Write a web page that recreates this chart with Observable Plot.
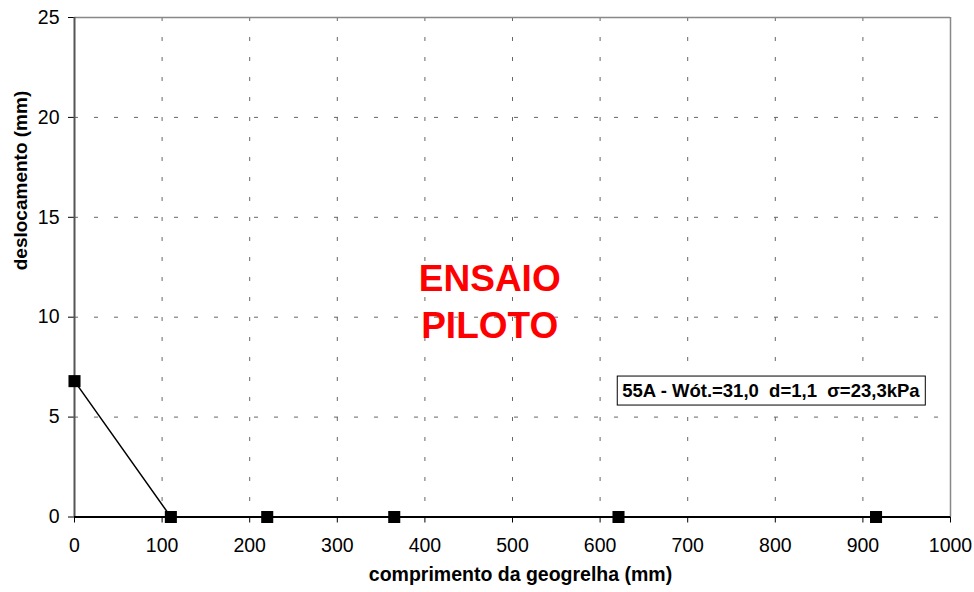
<!DOCTYPE html>
<html>
<head>
<meta charset="utf-8">
<script src="https://cdn.jsdelivr.net/npm/d3@7"></script>
<script src="https://cdn.jsdelivr.net/npm/@observablehq/plot@0.6"></script>
<style>
  html, body { margin: 0; padding: 0; background: #fff; }
  #chart { width: 974px; height: 592px; }
  svg { font-family: "Liberation Sans", Arial, sans-serif; }
</style>
</head>
<body>
<div id="chart"></div>
<script>
// Data
const comprimento = [0, 110, 220, 365, 621, 915];   // mm
const deslocamento = [6.8, 0, 0, 0, 0, 0];        // mm
const xTicks = [0, 100, 200, 300, 400, 500, 600, 700, 800, 900, 1000];
const yTicks = [0, 5, 10, 15, 20, 25];
const xLabel = "comprimento da geogrelha (mm)";
const yLabel = "deslocamento (mm)";
const watermark = ["ENSAIO\nPILOTO"];
const watermarkPos = {x: 474, y: 10.9};
const infoText = ["55A - Wót.=31,0  d=1,1  σ=23,3kPa"];
const infoPos = {x: 795, y: 6.3};

const data = comprimento.map((x, i) => ({x, y: deslocamento[i]}));

const dash = "4,16";
const chart = Plot.plot({
  width: 974,
  height: 592,
  marginLeft: 74,
  marginRight: 24,
  marginTop: 17,
  marginBottom: 75.5,
  style: {fontSize: "19px", fontFamily: "Liberation Sans, Arial, sans-serif", color: "#000", background: "#fff"},
  x: {domain: [0, 1000]},
  y: {domain: [0, 25]},
  marks: [
    // grid
    Plot.ruleX(xTicks.filter(d => d > 0 && d < 1000), {stroke: "#666", strokeOpacity: 1, strokeWidth: 1, strokeDasharray: dash}),
    Plot.ruleY(yTicks.filter(d => d > 0 && d < 25), {stroke: "#666", strokeOpacity: 1, strokeWidth: 1, strokeDasharray: dash}),
    // frame top/right
    Plot.ruleY([25], {stroke: "#888", strokeWidth: 1.5}),
    Plot.ruleX([1000], {stroke: "#888", strokeWidth: 1.5}),
    // axes
    Plot.axisX({ticks: xTicks, tickFormat: d3.format("d"), tickSize: 6, tickPadding: 15, fontSize: 19.5, label: null, stroke: "#000", strokeOpacity: 1}),
    Plot.axisY({ticks: yTicks, tickFormat: d3.format("d"), tickSize: 6, tickPadding: 9, fontSize: 19.5, label: null, stroke: "#000", strokeOpacity: 1}),
    Plot.ruleX([0], {stroke: "#555", strokeWidth: 2}),
    Plot.ruleY([0], {stroke: "#000", strokeWidth: 2}),
    // axis labels
    Plot.text([xLabel], {frameAnchor: "bottom", dx: 8, dy: 64, fontWeight: "bold", fontSize: 19.5, fill: "#000"}),
    Plot.text([yLabel], {frameAnchor: "left", dx: -54, dy: 3, rotate: -90, fontWeight: "bold", fontSize: 19, fill: "#000"}),
    // series
    Plot.line(data, {x: "x", y: "y", stroke: "#000", strokeWidth: 1.5}),
    Plot.dot(data, {x: "x", y: "y", symbol: "square", r: 6.8, fill: "#000", stroke: "none"}),
    // watermark
    Plot.text(watermark, {x: () => watermarkPos.x, y: () => watermarkPos.y, fill: "#ff0000", fontWeight: "bold", fontSize: 37, lineHeight: 1.27}),
    // info label
    Plot.text(infoText, {x: () => infoPos.x, y: () => infoPos.y, fill: "#000", fontWeight: "bold", fontSize: 18.5, className: "info-label"})
  ]
});
document.getElementById("chart").appendChild(chart);

// box around the info label, sized from the rendered text
const t = chart.querySelector(".info-label text");
if (t) {
  t.setAttribute("xml:space", "preserve");
  t.style.whiteSpace = "pre";
  const bb = t.getBBox();
  const pad = {x: 5, y: 5};
  const rect = document.createElementNS("http://www.w3.org/2000/svg", "rect");
  rect.setAttribute("x", bb.x - pad.x);
  rect.setAttribute("y", bb.y - pad.y + 1);
  rect.setAttribute("width", bb.width + 2 * pad.x);
  rect.setAttribute("height", bb.height + 2 * pad.y - 2);
  if (t.getAttribute("transform")) rect.setAttribute("transform", t.getAttribute("transform"));
  rect.setAttribute("fill", "#fff");
  rect.setAttribute("stroke", "#000");
  rect.setAttribute("stroke-width", "1");
  t.parentNode.insertBefore(rect, t);
}
</script>
</body>
</html>
